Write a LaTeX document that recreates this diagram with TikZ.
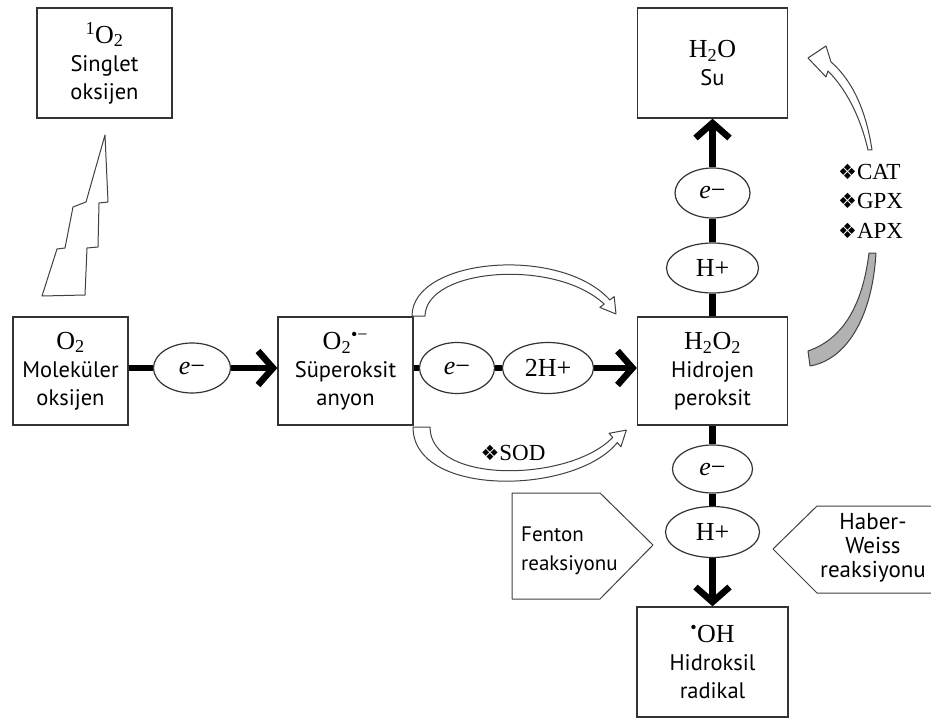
\documentclass[tikz,border=0pt]{standalone}
\usepackage{fontspec}
\setmainfont{PT Sans}
\newfontfamily\chemfont{Liberation Serif}
\newfontfamily\symfont{DejaVu Sans}
\usetikzlibrary{arrows.meta,shapes.geometric}
\newcommand{\ch}[1]{{\chemfont\fontsize{26}{28}\selectfont #1}}
\newcommand{\dia}{{\symfont\fontsize{21}{21}\selectfont ❖}}
\newcommand{\elec}{{\itshape e}−}
\tikzset{box/.style  = {draw=black!80, line width=1.3pt, inner sep=0pt, align=center,
                        font=\fontsize{22.5}{28}\selectfont},
         ov/.style   = {ellipse, draw=black!80, line width=1.2pt, inner sep=0pt,
                        font=\chemfont\fontsize{26}{28}\selectfont},
         link/.style = {line width=6.5pt, black},
         arr/.style  = {-{Straight Barb[length=15pt,width=34pt]}},
         band/.style = {draw=black!75, line width=1pt, fill=white, line join=round},
         lbl/.style  = {inner sep=0pt, font=\fontsize{22.5}{28}\selectfont}}

\begin{document}
\begin{tikzpicture}[x=1pt, y=-1pt]
    \useasboundingbox (0,0) rectangle (931,722);
    \node[box, minimum width=135pt, minimum height=110pt] (singlet) at (104.5,63)
        {\ch{\textsuperscript{1}O\textsubscript{2}}\\Singlet\\oksijen};
    \node[box, minimum width=115pt, minimum height=108pt] (o2) at (70.5,371)
        {\ch{O\textsubscript{2}}\\Moleküler\\oksijen};
    \node[box, minimum width=135pt, minimum height=108pt] (sup) at (345.5,371)
        {\ch{O\textsubscript{2}\textsuperscript{•−}}\\Süperoksit\\anyon};
    \node[box, minimum width=150pt, minimum height=108pt] (hp) at (712.5,371)
        {\ch{H\textsubscript{2}O\textsubscript{2}}\\Hidrojen\\peroksit};
    \node[box, minimum width=150pt, minimum height=110pt] (su) at (712.5,63)
        {\ch{H\textsubscript{2}O}\\Su};
    \node[box, minimum width=151pt, minimum height=110pt] (oh) at (712.5,662)
        {\ch{\textsuperscript{•}OH}\\Hidroksil\\radikal};

    \node[ov, minimum width=77pt, minimum height=50pt] (e1) at (192,368) {\elec};
    \node[ov, minimum width=75pt, minimum height=51pt] (e2) at (457,368) {\elec};
    \node[ov, minimum width=91pt, minimum height=51pt] (h2) at (548,368) {2H+};
    \node[ov, minimum width=75pt, minimum height=50pt] (eu) at (712.5,193) {\elec};
    \node[ov, minimum width=92pt, minimum height=50pt] (hu) at (712.5,268) {H+};
    \node[ov, minimum width=80pt, minimum height=48pt] (ed) at (712.5,469) {\elec};
    \node[ov, minimum width=94pt, minimum height=51pt] (hd) at (712.5,532) {H+};

    \draw[link] (o2.east |- e1.west) -- (e1.west);
    \draw[link, arr] (e1.east) -- (sup.west |- e1.east);
    \draw[link] (sup.east |- e2.west) -- (e2.west);
    \draw[link] (e2) -- (h2);
    \draw[link, arr] (h2.east) -- (hp.west |- h2.east);
    \draw[link] (hp) -- (hu);
    \draw[link] (hu) -- (eu);
    \draw[link, arr] (eu) -- (su);
    \draw[link] (hp) -- (ed);
    \draw[link] (ed) -- (hd);
    \draw[link, arr] (hd) -- (oh);

    \draw[band] (105,135) -- (108,202) -- (99,203) -- (98,247) -- (87,248) -- (85,295)
        -- (42,296) -- (57,249) -- (65,248) -- (73,207) -- (86,202) -- cycle;

    \draw[band] (412,316) .. controls (412,258) and (560,245) .. (609.8,299.9)
        -- (614.2,296.6) -- (616,314) -- (599.8,307.4) -- (604.2,304.1)
        .. controls (555,258) and (426,268) .. (425,316) -- cycle;
    \draw[band] (413,427) .. controls (413,498) and (575,495) .. (617.3,442.6)
        -- (620.9,446.8) -- (626.3,430.1) -- (609.1,433.3) -- (612.7,437.4)
        .. controls (570,482) and (430,485) .. (430,427) -- cycle;
    \node[lbl, font=\chemfont\fontsize{23}{26}\selectfont] (sod) at (513,453) {\dia SOD};

    \draw[band] (831,62) .. controls (852,80) and (866,110) .. (872,150)
        -- (868,150) .. controls (860,115) and (845,88) .. (828,71)
        -- (826,77) -- (808,58) -- (826,46) -- cycle;
    \draw[band, fill=black!30] (876,253) .. controls (872,320) and (845,360) .. (810,366)
        -- (808,351) .. controls (840,340) and (862,310) .. (869,253) -- cycle;
    \node[lbl, align=left, anchor=west, font=\chemfont\fontsize{23}{29.5}\selectfont] (enz) at (838,201)
        {\dia CAT\\\dia GPX\\\dia APX};

    \draw[band] (512,493) -- (600,493) -- (653,545) -- (600,599) -- (512,599) -- cycle;
    \node[lbl, align=left, anchor=west, font=\fontsize{21}{29}\selectfont] (fenton) at (521,551)
        {Fenton\\reaksiyonu};
    \draw[band] (931,506) -- (817,506) -- (773,549) -- (817,593) -- (931,593);
    \node[lbl, align=center, font=\fontsize{23}{24}\selectfont] (haber) at (873,548)
        {Haber-\\Weiss\\reaksiyonu};
\end{tikzpicture}
\end{document}
